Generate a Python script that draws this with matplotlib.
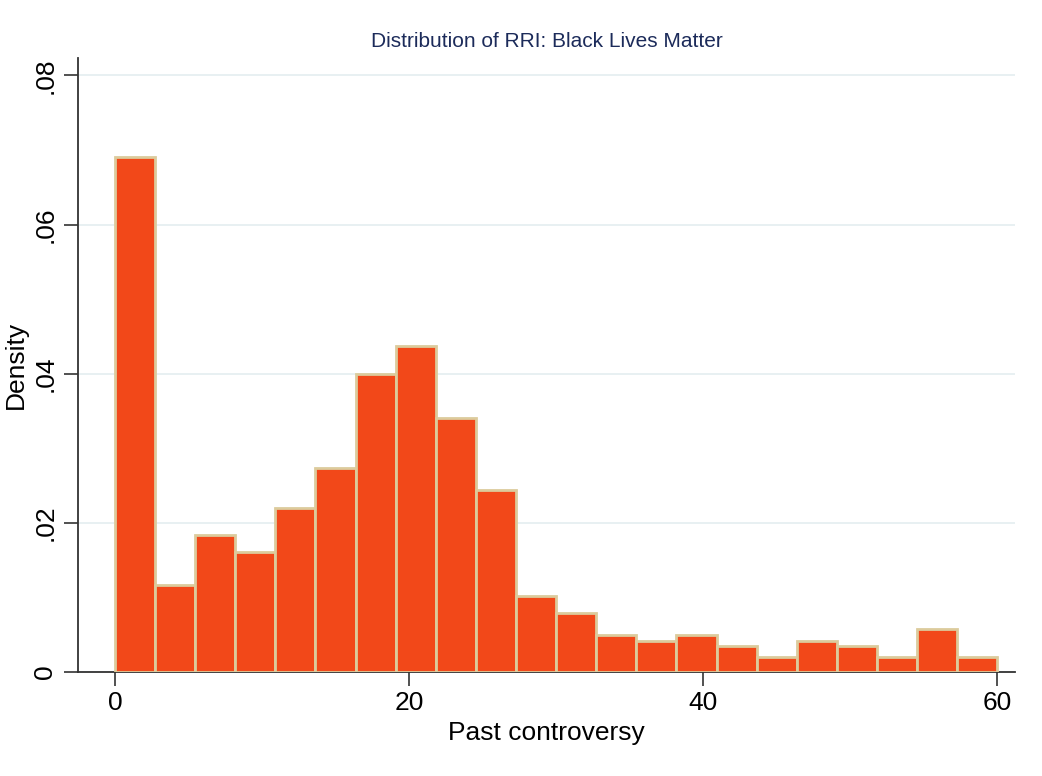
import numpy as np
import matplotlib.pyplot as plt

plt.rcParams['font.family'] = ['Liberation Sans', 'DejaVu Sans']

# histogram of past controversy, 22 bins from 0 to 60 (density)
bin_lo = 0
bin_hi = 60
n_bins = 22
density = [0.0690, 0.0117, 0.0184, 0.0161, 0.0220, 0.0273, 0.0399, 0.0437,
           0.0340, 0.0244, 0.0102, 0.0079, 0.0050, 0.0042, 0.0050, 0.0035,
           0.0020, 0.0042, 0.0035, 0.0020, 0.0058, 0.0020]
x_ticks = [0, 20, 40, 60]
y_ticks = [0, 0.02, 0.04, 0.06, 0.08]
y_ticklabels = ['0', '.02', '.04', '.06', '.08']

edges = np.linspace(bin_lo, bin_hi, n_bins + 1)
width = edges[1] - edges[0]

fig = plt.figure(figsize=(10.42, 7.76), dpi=100)
ax = fig.add_axes([0.075, 0.134, 0.899, 0.791])

ax.bar(edges[:-1], density, width=width, align='edge',
       color='#f24819', edgecolor='#dccb9c', linewidth=2, zorder=3)

ax.set_xlim(-2.5, 61.2)
ax.set_ylim(0, 0.0823)

ax.set_xticks(x_ticks)
ax.set_yticks(y_ticks)
ax.set_yticklabels(y_ticklabels, rotation=90, va='center')
ax.tick_params(axis='both', labelsize=19, length=10, width=1.2,
               color='#333333', pad=5)
ax.tick_params(axis='x', pad=4)

ax.yaxis.grid(True, color='#e6eff1', linewidth=1.3, zorder=0)
ax.xaxis.grid(False)

for side in ['top', 'right']:
    ax.spines[side].set_visible(False)
for side in ['left', 'bottom']:
    ax.spines[side].set_color('#333333')
    ax.spines[side].set_linewidth(1.3)

ax.set_xlabel('Past controversy', fontsize=19, labelpad=4)
ax.set_ylabel('Density', fontsize=19, labelpad=4)
ax.set_title('Distribution of RRI: Black Lives Matter', fontsize=15,
             color='#1c2b5a', pad=8)

plt.savefig('out.png', dpi=100)
plt.close(fig)
